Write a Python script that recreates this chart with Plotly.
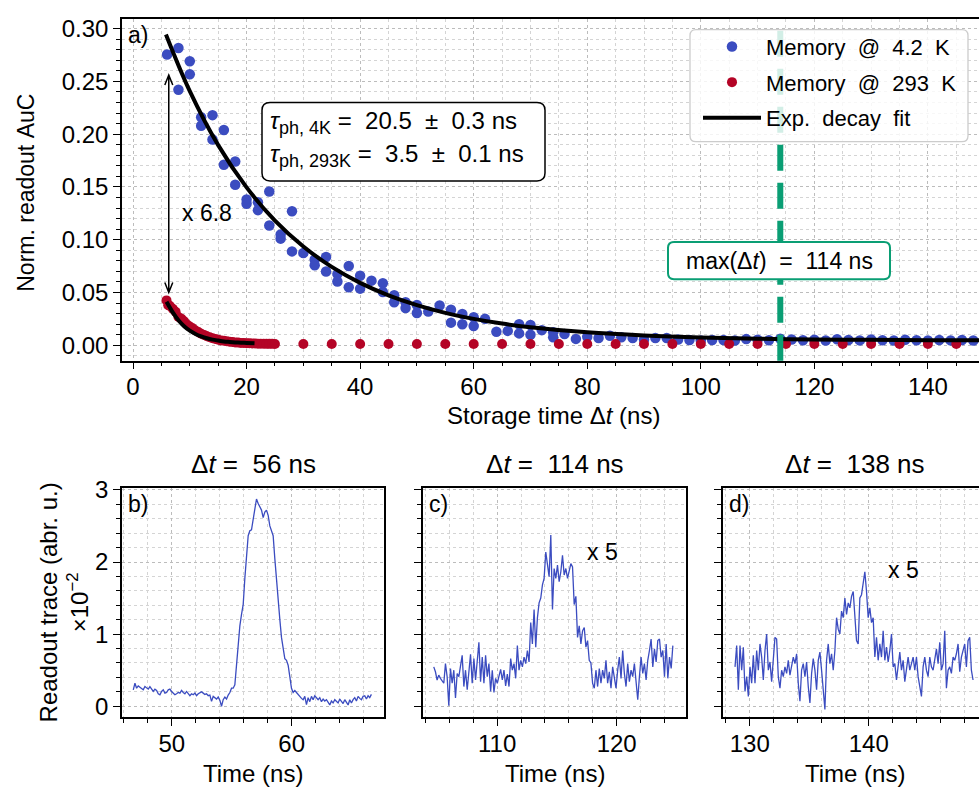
import numpy as np
import plotly.graph_objects as go

W, H = 979, 795
FONT = "Liberation Sans"
BLUE = "#3b4cc0"
RED = "#b40426"
GREEN = "#0a9e74"
NB = "\u00a0"

# ---------------- panel a data ----------------
blue_t = [6, 8, 8, 10, 10, 12, 12, 14, 14, 16, 16, 18, 18, 20, 20, 22, 22, 24, 24, 26, 26,
          28, 28, 30, 32, 32, 34, 34, 36, 36, 38, 38, 40, 40, 42, 44, 44, 46, 46, 48, 48,
          50, 50, 52, 54, 56, 56, 58, 58, 60, 60, 62, 64, 66, 68, 68, 70, 70, 72, 74, 74,
          76, 78, 80, 82, 84, 86, 88, 90, 92, 94, 96, 98, 100, 102, 104, 106, 108, 110,
          112, 114, 116, 118, 120, 122, 124, 126, 128, 130, 132, 134, 136, 138, 140, 142,
          144, 146, 148]
blue_v = [0.2755, 0.2816, 0.242, 0.269, 0.2567, 0.216, 0.208, 0.218, 0.195, 0.204, 0.171,
          0.174, 0.152, 0.138, 0.134, 0.1355, 0.128, 0.1457, 0.1134, 0.105, 0.101,
          0.127, 0.0889, 0.0873, 0.0812, 0.0757, 0.0836, 0.0698, 0.0674, 0.0603, 0.075, 0.055,
          0.0658, 0.0536, 0.0612, 0.0588, 0.0505, 0.0474, 0.0407, 0.0407, 0.0352,
          0.0382, 0.0306, 0.032, 0.0376, 0.0336, 0.0214, 0.0297, 0.0198, 0.0265, 0.0182,
          0.025, 0.0127, 0.0136, 0.0198, 0.0112, 0.0192, 0.0099, 0.0143, 0.0122, 0.0075,
          0.0106, 0.006, 0.0081, 0.0069, 0.009, 0.0075, 0.0069, 0.0055, 0.0069, 0.0069,
          0.0055, 0.005, 0.0045, 0.005, 0.005, 0.0045, 0.0058, 0.0052, 0.0048, 0.0062,
          0.0055, 0.0047, 0.0052, 0.0045, 0.0056, 0.005, 0.0046, 0.0054, 0.0048, 0.0044,
          0.0052, 0.0047, 0.0045, 0.005, 0.0046, 0.0049, 0.0044]

red_t = [5.9, 6.2, 6.5, 7.0, 7.5, 8.0, 8.5, 9.0, 9.5, 10.0, 10.5, 11.0, 11.5, 12.0, 12.5,
         13.0, 13.5, 14.0, 14.5, 15.0, 15.5, 16.0, 16.5, 17.0, 17.5, 18.0, 18.5, 19.0,
         19.5, 20.0, 20.5, 21.0, 21.5, 22.0, 22.5, 23.0, 23.5, 24.0, 24.5, 25.0,
         30, 35, 40, 45, 50, 55, 60, 65, 70, 75, 80, 85, 90, 95, 100, 105, 110, 115,
         120, 125, 130, 135, 140, 145, 150]
red_v = [0.0425, 0.038, 0.0372, 0.0345, 0.0318, 0.0268, 0.0252, 0.0228, 0.0196, 0.0178,
         0.016, 0.0139, 0.0125, 0.0108, 0.0098, 0.0085, 0.0076, 0.0066, 0.006, 0.0052,
         0.0046, 0.0043, 0.0037, 0.0034, 0.003, 0.0027, 0.0025, 0.0022, 0.0021, 0.0019,
         0.0018, 0.0016, 0.0016, 0.0015, 0.0014, 0.0014, 0.0013, 0.0013, 0.0013, 0.0012,
         0.0012, 0.0012, 0.0012, 0.0012, 0.0012, 0.0012, 0.0012, 0.0012, 0.0012, 0.0012,
         0.0012, 0.0012, 0.0012, 0.0012, 0.0012, 0.0012, 0.0012, 0.0012, 0.0012, 0.0012,
         0.0012, 0.0012, 0.0012, 0.0012, 0.0012]

# fit curves
fit4_t = [5.8, 10, 15, 20, 25, 30, 35, 40, 45, 50, 55, 60, 65, 70, 80, 90, 100, 110, 120,
          130, 140, 150]
fit4_v = [0.2945, 0.2408, 0.1896, 0.1496, 0.1181, 0.0935, 0.0742, 0.0591, 0.0473, 0.038,
          0.0307, 0.025, 0.0205, 0.0171, 0.0122, 0.0092, 0.0073, 0.0062, 0.0055, 0.0051,
          0.0048, 0.0047]
fit293_t = [5.9, 7, 8, 9, 10, 11, 12, 13, 14, 15, 16, 17, 18, 19, 20, 21.4]
fit293_v = [0.0412, 0.0312, 0.0237, 0.018, 0.0138, 0.0107, 0.0084, 0.0066, 0.0053, 0.0044,
            0.0036, 0.0031, 0.0027, 0.0024, 0.0022, 0.0019]

MAX_DT = 114
ARROW_T = 6.3
ARROW_V = [0.05, 0.256]

# ---------------- readout traces (x10^-2) ----------------
trace_b_range = (46.79, 66.65)
trace_b = [0.228, 0.319, 0.250, 0.282, 0.264, 0.250, 0.228, 0.273, 0.250, 0.237, 0.273,
           0.228, 0.205, 0.237, 0.219, 0.173, 0.159, 0.205, 0.228, 0.182, 0.191, 0.228,
           0.237, 0.205, 0.182, 0.159, 0.173, 0.191, 0.182, 0.219, 0.191, 0.173, 0.205,
           0.182, 0.146, 0.173, 0.159, 0.182, 0.146, 0.173, 0.191, 0.200, 0.182, 0.164,
           0.173, 0.146, 0.155, 0.068, 0.137, 0.119, 0.100, 0.128, 0.082, 0.000, 0.091,
           0.128, 0.100, 0.155, 0.191, 0.250, 0.250, 0.296, 0.569, 0.864, 1.114, 1.274,
           1.410, 1.774, 2.092, 2.365, 2.433, 2.447, 2.592, 2.774, 2.874, 2.811, 2.752,
           2.720, 2.615, 2.692, 2.720, 2.647, 2.501, 2.433, 2.365, 2.047, 1.728, 1.410,
           1.205, 0.955, 0.819, 0.660, 0.637, 0.569, 0.410, 0.250, 0.191, 0.219, 0.191,
           0.155, 0.137, 0.109, 0.091, 0.137, 0.023, 0.119, 0.064, 0.137, 0.091, 0.146,
           0.109, 0.091, 0.119, 0.064, 0.100, 0.073, 0.091, 0.046, 0.018, 0.073, 0.046,
           0.091, 0.064, 0.046, 0.100, 0.073, 0.037, 0.091, 0.055, 0.018, 0.091, 0.046,
           0.091, 0.119, 0.073, 0.137, 0.109, 0.091, 0.137, 0.146, 0.100, 0.146, 0.119,
           0.164]

trace_c_range = (104.7, 124.7)
trace_c = [0.546, 0.478, 0.364, 0.432, 0.387, 0.355, 0.319, 0.591, 0.410, 0.008, 0.523,
           0.319, 0.500, 0.114, 0.455, 0.410, 0.591, 0.705, 0.273, 0.500, 0.228, 0.500,
           0.719, 0.319, 0.660, 0.364, 0.637, 0.887, 0.341, 0.682, 0.319, 0.705, 0.410,
           0.591, 0.205, 0.500, 0.191, 0.387, 0.319, 0.432, 0.510, 0.364, 0.500, 0.282,
           0.446, 0.273, 0.660, 0.500, 0.591, 0.387, 0.841, 0.500, 0.637, 0.546, 0.682,
           0.591, 0.773, 0.614, 1.160, 0.864, 1.342, 0.819, 1.228, 1.433, 1.501, 1.683,
           1.774, 2.138, 1.956, 1.797, 2.374, 1.342, 1.910, 1.774, 1.956, 1.728, 1.865,
           2.092, 1.820, 1.910, 1.774, 1.865, 1.978, 1.933, 1.410, 1.524, 0.955, 1.114,
           0.864, 1.046, 1.092, 0.819, 0.910, 0.637, 0.600, 0.319, 0.250, 0.500, 0.273,
           0.523, 0.319, 0.500, 0.387, 0.637, 0.319, 0.478, 0.250, 0.546, 0.410, 0.250,
           0.500, 0.682, 0.387, 0.773, 0.455, 0.273, 0.591, 0.341, 0.500, 0.410, 0.591,
           0.319, 0.091, 0.410, 0.682, 0.455, 0.591, 0.364, 0.637, 0.773, 0.932, 0.546,
           0.796, 0.614, 0.910, 0.932, 0.682, 0.773, 0.410, 0.864, 0.387, 0.682, 0.523,
           0.841]

trace_d_range = (128.76, 148.76)
trace_d = [0.546, 0.841, 0.228, 0.841, 0.500, 0.819, 0.205, 0.410, 0.137, 0.546, 0.319,
           0.705, 0.319, 0.773, 0.500, 0.864, 0.682, 0.364, 0.773, 1.001, 0.500, 0.614,
           0.341, 0.682, 0.955, 0.932, 0.410, 0.250, 0.500, 0.410, 0.546, 0.455, 0.637,
           0.432, 0.546, 0.682, 0.591, 0.728, 0.319, 0.069, 0.500, 0.591, 0.410, 0.614,
           0.273, 0.046, 0.455, 0.660, 0.500, 0.228, 0.637, 0.751, 0.500, 0.273, -0.045,
           0.637, 0.864, 0.591, 0.728, 0.500, 0.773, 1.228, 1.069, 1.001, 1.319, 1.228,
           1.501, 1.274, 1.433, 1.365, 1.524, 1.592, 1.183, 0.910, 0.864, 1.501, 1.547,
           1.683, 1.865, 1.592, 1.228, 1.365, 1.160, 1.228, 0.682, 0.955, 0.637, 0.864,
           0.682, 1.046, 0.637, 0.819, 0.614, 0.773, 1.001, 0.546, 0.591, 0.364, 0.591,
           0.751, 0.500, 0.637, 0.341, 0.546, 0.682, 0.500, 0.591, 0.682, 0.500, 0.682,
           0.410, 0.296, 0.137, 0.546, 0.682, 0.500, 0.410, 0.682, 0.546, 0.500, 0.682,
           0.796, 0.591, 0.887, 0.500, 0.591, 1.046, 0.250, 0.500, 0.546, 0.455, 0.682,
           0.637, 0.728, 0.864, 0.478, 0.682, 0.773, 0.864, 0.546, 0.910, 0.955, 0.500,
           0.364]

panel_titles = [f"Δ<i>t</i>{NB}={NB}{NB}56{NB}ns", f"Δ<i>t</i>{NB}={NB}{NB}114{NB}ns",
                f"Δ<i>t</i>{NB}={NB}{NB}138{NB}ns"]
panel_labels = ["b)", "c)", "d)"]
gain_labels = [None, "x 5", "x 5"]
gain_pos = [None, (118.8, 2.14), (142.9, 1.89)]

# ---------------- layout helpers ----------------
def PX(x):
    return x / W

def PY(y):
    return 1 - y / H

def rrect(x0, y0, x1, y1, r):
    pts = [
        f"M{PX(x0 + r)},{PY(y0)}", f"L{PX(x1 - r)},{PY(y0)}",
        f"Q{PX(x1)},{PY(y0)} {PX(x1)},{PY(y0 + r)}", f"L{PX(x1)},{PY(y1 - r)}",
        f"Q{PX(x1)},{PY(y1)} {PX(x1 - r)},{PY(y1)}", f"L{PX(x0 + r)},{PY(y1)}",
        f"Q{PX(x0)},{PY(y1)} {PX(x0)},{PY(y1 - r)}", f"L{PX(x0)},{PY(y0 + r)}",
        f"Q{PX(x0)},{PY(y0)} {PX(x0 + r)},{PY(y0)}", "Z"]
    return " ".join(pts)

TICKFONT = dict(family=FONT, size=24, color="black")

def axis(**kw):
    d = dict(showline=True, linecolor="black", linewidth=1.5, ticks="outside", ticklen=7,
             tickwidth=1.3, tickcolor="black", showgrid=True, gridcolor="#bcbcbc",
             griddash="dot", gridwidth=1, zeroline=False, tickfont=TICKFONT,
             minor=dict(ticks="outside", ticklen=4, tickwidth=1, tickcolor="black",
                        showgrid=True, gridcolor="#d4d4d4", griddash="dot", gridwidth=0.8))
    minor = kw.pop("minor", None)
    d.update(kw)
    if minor:
        d["minor"].update(minor)
    return d

fig = go.Figure()

leg_names = [f"Memory{NB}{NB}@{NB}{NB}4.2{NB}{NB}K", f"Memory{NB}{NB}@{NB}{NB}293{NB}{NB}K",
             f"Exp.{NB}{NB}decay{NB}{NB}fit"]
fig.add_trace(go.Scatter(x=blue_t, y=blue_v, mode="markers", name=leg_names[0],
                         marker=dict(color=BLUE, size=10.5), legendgroup="g1", legendrank=1,
                         xaxis="x", yaxis="y"))
fig.add_trace(go.Scatter(x=red_t, y=red_v, mode="markers", name=leg_names[1],
                         marker=dict(color=RED, size=10), legendgroup="g2", legendrank=2,
                         xaxis="x", yaxis="y"))
fig.add_trace(go.Scatter(x=fit4_t, y=fit4_v, mode="lines", name=leg_names[2],
                         line=dict(color="black", width=4, shape="spline"), legendgroup="g3",
                         legendrank=3, xaxis="x", yaxis="y"))
fig.add_trace(go.Scatter(x=fit293_t, y=fit293_v, mode="lines", showlegend=False,
                         line=dict(color="black", width=4, shape="spline"), legendgroup="g3",
                         xaxis="x", yaxis="y"))

for i, (vals, rng) in enumerate([(trace_b, trace_b_range), (trace_c, trace_c_range),
                                 (trace_d, trace_d_range)]):
    t = np.linspace(rng[0], rng[1], len(vals))
    fig.add_trace(go.Scatter(x=t, y=vals, mode="lines", showlegend=False,
                             line=dict(color=BLUE, width=1.3),
                             xaxis=f"x{i + 2}", yaxis=f"y{i + 2}"))

top_dom_y = [PY(355), PY(7)]
bot_dom_y = [PY(718), PY(485)]
doms_x = [[PX(122), PX(384)], [PX(423), PX(686)], [PX(723), 1.0]]
xr_bot = [[45.85, 67.7], [103.8, 125.8], [127.75, 149.26]]

layout = dict(
    width=W, height=H, margin=dict(l=0, r=0, t=0, b=0),
    paper_bgcolor="white", plot_bgcolor="white",
    font=dict(family=FONT, size=23, color="black"),
    xaxis=axis(domain=[PX(122), 1.0], range=[-1.94, 149], dtick=20, tick0=0,
               minor=dict(dtick=5), mirror=True, anchor="y", ticklabelstandoff=-3),
    yaxis=axis(domain=top_dom_y, range=[-0.0147, 0.3092], dtick=0.05, tick0=0,
               tickformat=".2f", minor=dict(dtick=0.01), anchor="x"),
    legend=dict(x=PX(698), y=PY(14), xanchor="left", yanchor="top",
                bgcolor="rgba(0,0,0,0)", borderwidth=0, tracegroupgap=4,
                font=dict(family=FONT, size=22), itemwidth=58),
    showlegend=True,
)
for i in range(3):
    n = i + 2
    layout[f"xaxis{n}"] = axis(domain=doms_x[i], range=xr_bot[i], dtick=10, tick0=0,
                               minor=dict(dtick=2), mirror=True, anchor=f"y{n}",
                               ticklabelstandoff=-3)
    layout[f"yaxis{n}"] = axis(domain=bot_dom_y, range=[-0.154, 3.02], dtick=1, tick0=0,
                               minor=dict(dtick=0.2), mirror=(i < 2), anchor=f"x{n}",
                               showticklabels=(i == 0))
fig.update_layout(**layout)

shapes = []
shapes.append(dict(type="line", xref="x", yref="y domain", x0=MAX_DT, x1=MAX_DT, y0=0, y1=1,
                   line=dict(color=GREEN, width=6, dash="26px,12px"), layer="above"))
shapes.append(dict(type="path", xref="paper", yref="paper", path=rrect(690, 18, 968, 132, 6),
                   fillcolor="rgba(255,255,255,0.82)", line=dict(color="#cccccc", width=1.3),
                   layer="above"))
shapes.append(dict(type="path", xref="paper", yref="paper", path=rrect(262, 92, 545, 172, 8),
                   fillcolor="white", line=dict(color="black", width=1.5), layer="above"))
shapes.append(dict(type="path", xref="paper", yref="paper", path=rrect(668, 234, 890, 272, 6),
                   fillcolor="white", line=dict(color=GREEN, width=2), layer="above"))
hw, hl = 0.7, 0.0095
a0, a1 = ARROW_V
shapes.append(dict(type="path", xref="x", yref="y", layer="above",
                   path=(f"M{ARROW_T},{a0} L{ARROW_T},{a1} "
                         f"M{ARROW_T - hw},{a1 - hl} L{ARROW_T},{a1} L{ARROW_T + hw},{a1 - hl} "
                         f"M{ARROW_T - hw},{a0 + hl} L{ARROW_T},{a0} L{ARROW_T + hw},{a0 + hl}"),
                   line=dict(color="black", width=1.5)))
fig.update_layout(shapes=shapes)

ann = []
def text(x, y, s, size=23, xanchor="center", yanchor="middle", angle=0, **kw):
    ann.append(dict(x=PX(x), y=PY(y), xref="paper", yref="paper", text=s, showarrow=False,
                    xanchor=xanchor, yanchor=yanchor, textangle=angle,
                    font=dict(family=FONT, size=size, color="black"), **kw))

SUB = "<sub><span style='font-size:18px'>{}</span></sub>"
text(26, 184, f"Norm.{NB}readout{NB}AuC", angle=-90)
text(553, 411, f"Storage{NB}time{NB}Δ<i>t</i>{NB}(ns)", size=24)
text(126, 23, "a)", xanchor="left")
text(180, 205, f"x{NB}6.8", xanchor="left")
text(268, 112, f"<i>τ</i>{SUB.format('ph, 4K')}{NB}={NB}{NB}20.5{NB}{NB}±{NB}{NB}0.3{NB}ns",
     size=24, xanchor="left")
text(268, 146, f"<i>τ</i>{SUB.format('ph, 293K')}{NB}={NB}{NB}3.5{NB}{NB}±{NB}{NB}0.1{NB}ns",
     size=24, xanchor="left")
text(779, 253, f"max(Δ<i>t</i>){NB}{NB}={NB}{NB}114{NB}ns", size=23)
text(64, 601, f"Readout{NB}trace{NB}(abr.{NB}u.)<br>×10<sup>−2</sup>", angle=-90, size=24)
centers = [253, 554.5, 854.5]
lefts = [126, 427, 727]
for i in range(3):
    text(centers[i], 460, panel_titles[i], size=26)
    text(centers[i], 775, f"Time{NB}(ns)", size=24)
    text(lefts[i], 501, panel_labels[i], xanchor="left")
    if gain_labels[i]:
        ann.append(dict(x=gain_pos[i][0], y=gain_pos[i][1], xref=f"x{i + 2}", yref=f"y{i + 2}",
                        text=gain_labels[i].replace(" ", NB), showarrow=False,
                        xanchor="center", font=dict(family=FONT, size=23, color="black")))
fig.update_layout(annotations=ann)

fig.write_html("out.html")
